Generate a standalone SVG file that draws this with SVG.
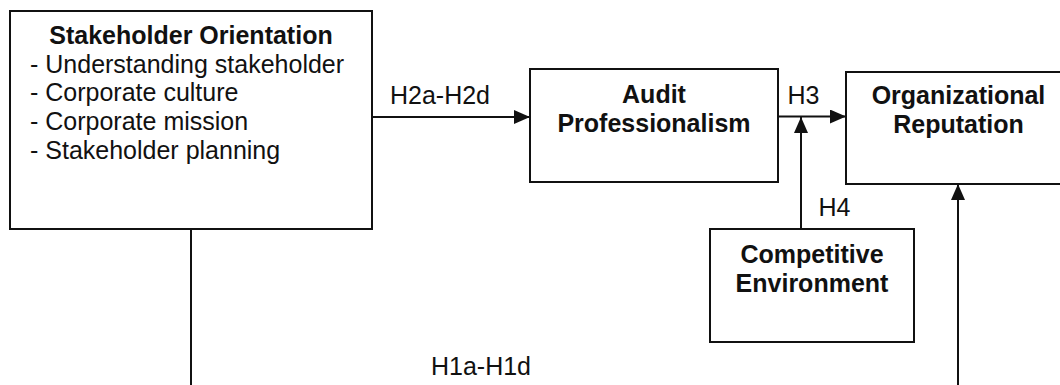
<svg xmlns="http://www.w3.org/2000/svg" width="1060" height="385" viewBox="0 0 1060 385">
  <style>
    .box { fill: #ffffff; stroke: #111111; stroke-width: 2; }
    .wire { fill: none; stroke: #111111; stroke-width: 2; }
    text { font-family: "Liberation Sans", Arial, sans-serif; font-size: 25px; fill: #111111; }
    .title { font-weight: bold; text-anchor: middle; }
    .mid { text-anchor: middle; }
  </style>
  <defs>
    <marker id="arrow" markerWidth="16" markerHeight="14" refX="16" refY="7" orient="auto" markerUnits="userSpaceOnUse">
      <path d="M0,0 L16,7 L0,14 Z" fill="#111111"/>
    </marker>
  </defs>
  <rect width="1060" height="385" fill="#ffffff"/>

  <g id="connectors">
    <!-- Stakeholder Orientation -> Audit Professionalism -->
    <line class="wire" x1="372" y1="117" x2="530" y2="117" marker-end="url(#arrow)"/>
    <text x="440" y="104" class="mid">H2a-H2d</text>
    <!-- Audit Professionalism -> Organizational Reputation -->
    <line class="wire" x1="778" y1="116.5" x2="846" y2="116.5" marker-end="url(#arrow)"/>
    <text x="803.5" y="104" class="mid">H3</text>
    <!-- Competitive Environment moderates H3 -->
    <line class="wire" x1="801" y1="229" x2="801" y2="117" marker-end="url(#arrow)"/>
    <text x="834.5" y="216" class="mid">H4</text>
    <!-- Stakeholder Orientation -> Organizational Reputation (runs below the frame) -->
    <line class="wire" x1="191" y1="229" x2="191" y2="385"/>
    <line class="wire" x1="958" y1="385" x2="958" y2="184" marker-end="url(#arrow)"/>
    <text x="481" y="375" class="mid">H1a-H1d</text>
  </g>

  <g id="stakeholder-orientation">
    <rect class="box" x="10" y="11" width="362" height="218"/>
    <text x="191" y="43.5" class="title">Stakeholder Orientation</text>
    <text x="30" y="72.5">- Understanding stakeholder</text>
    <text x="30" y="101">- Corporate culture</text>
    <text x="30" y="130">- Corporate mission</text>
    <text x="30" y="158.5">- Stakeholder planning</text>
  </g>

  <g id="audit-professionalism">
    <rect class="box" x="530" y="69" width="248" height="113"/>
    <text x="654" y="103" class="title">Audit</text>
    <text x="654" y="132" class="title">Professionalism</text>
  </g>

  <g id="organizational-reputation">
    <rect class="box" x="846" y="72" width="230" height="112"/>
    <text x="958.5" y="104" class="title">Organizational</text>
    <text x="958.5" y="133" class="title">Reputation</text>
  </g>

  <g id="competitive-environment">
    <rect class="box" x="710" y="229" width="204" height="113"/>
    <text x="812" y="263" class="title">Competitive</text>
    <text x="812" y="291.5" class="title">Environment</text>
  </g>
</svg>
